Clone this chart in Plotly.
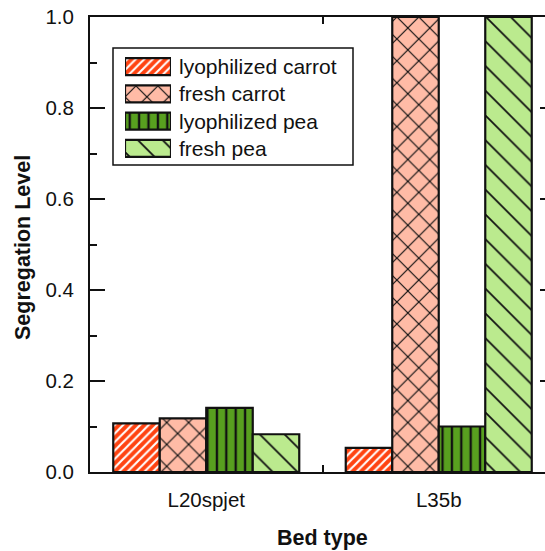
import plotly.graph_objects as go

# Data
bed_types = ["L20spjet", "L35b"]
series_names = ["lyophilized carrot", "fresh carrot", "lyophilized pea", "fresh pea"]
lyo_carrot = [0.107, 0.053]
fresh_carrot = [0.118, 1.0]
lyo_pea = [0.141, 0.100]
fresh_pea = [0.083, 1.0]
y_ticks = [0.0, 0.2, 0.4, 0.6, 0.8, 1.0]

series_values = [lyo_carrot, fresh_carrot, lyo_pea, fresh_pea]

# Styles per series: fill colour, hatch shape, hatch colour, hatch size, solidity
styles = [
    dict(bg="#ff4311", shape="/", fg="#ffffff", size=6, solidity=0.35),
    dict(bg="#ffbba6", shape="x", fg="#111111", size=15.5, solidity=0.15),
    dict(bg="#58a01f", shape="|", fg="#111111", size=9.4, solidity=0.25),
    dict(bg="#bbea8e", shape="\\", fg="#111111", size=17.5, solidity=0.1),
]

FONT = "Liberation Sans, Arial, sans-serif"
TICK_SIZE, LEGEND_SIZE, TITLE_SIZE = 20.5, 21, 21.5
W, H = 545, 551
L, R, T, B = 90, 0, 17, 79
PW, PH = W - L - R, H - T - B


def px_x(v):
    return (v - L) / PW


def px_y(v):
    return (H - B - v) / PH


fig = go.Figure()

for name, vals, st in zip(series_names, series_values, styles):
    fig.add_trace(go.Bar(
        x=bed_types, y=vals, name=name, showlegend=False,
        marker=dict(
            color=st["bg"],
            line=dict(color="#111111", width=2.2),
            pattern=dict(shape=st["shape"], fgcolor=st["fg"], bgcolor=st["bg"],
                         size=st["size"], solidity=st["solidity"], fillmode="replace"),
        ),
    ))

# Hatched legend swatches drawn in a small inset axis
legend_rows = list(range(len(series_names)))
for i, (name, st) in enumerate(zip(series_names, styles)):
    fig.add_trace(go.Bar(
        x=[1], y=[legend_rows[i]], base=0, orientation="h", width=0.62,
        xaxis="x3", yaxis="y3", showlegend=False, hoverinfo="skip",
        marker=dict(
            color=st["bg"],
            line=dict(color="#111111", width=2.2),
            pattern=dict(shape=st["shape"], fgcolor=st["fg"], bgcolor=st["bg"],
                         size=st["size"], solidity=st["solidity"], fillmode="replace"),
        ),
    ))

# invisible trace to carry the right-hand tick axis
fig.add_trace(go.Scatter(x=bed_types, y=[None, None], yaxis="y2", showlegend=False,
                         hoverinfo="skip", mode="markers"))

annotations = []
row_top, row_bot = 53, 162
row_step = (row_bot - row_top) / len(series_names)
for i, name in enumerate(series_names):
    annotations.append(dict(
        x=px_x(177), y=px_y(row_top + row_step * (i + 0.5)), xref="paper", yref="paper",
        text=name, showarrow=False, xanchor="left", yanchor="middle",
        font=dict(family=FONT, size=LEGEND_SIZE, color="#111111"),
    ))

annotations.append(dict(
    x=px_x(23), y=px_y(248), xref="paper", yref="paper", text="<b>Segregation Level</b>",
    textangle=-90, showarrow=False, xanchor="center", yanchor="middle",
    font=dict(family=FONT, size=TITLE_SIZE, color="#111111"),
))
annotations.append(dict(
    x=px_x(322), y=px_y(538), xref="paper", yref="paper", text="<b>Bed type</b>",
    showarrow=False, xanchor="center", yanchor="middle",
    font=dict(family=FONT, size=TITLE_SIZE, color="#111111"),
))

fig.update_layout(
    width=W, height=H,
    margin=dict(l=L, r=R, t=T, b=B, pad=0),
    paper_bgcolor="white", plot_bgcolor="white",
    barmode="group", bargap=0.2, bargroupgap=0,
    font=dict(family=FONT, size=TICK_SIZE, color="#111111"),
    xaxis=dict(
        type="category", range=[-0.5, -0.5 + PW / 232.5],
        tickson="boundaries", ticks="inside", ticklen=7, tickwidth=2, tickcolor="#111111",
        showline=True, linewidth=2, linecolor="#111111", mirror="ticks",
        showgrid=False, zeroline=False, ticklabelstandoff=8,
        tickfont=dict(family=FONT, size=TICK_SIZE, color="#111111"),
    ),
    yaxis=dict(
        range=[0, 1.0], tickvals=y_ticks, ticktext=[f"{v:.1f}" for v in y_ticks],
        ticks="inside", ticklen=15, tickwidth=2, tickcolor="#111111",
        minor=dict(ticks="inside", ticklen=7, tickwidth=2, tickcolor="#111111", dtick=0.1, tick0=0),
        showline=True, linewidth=2, linecolor="#111111",
        showgrid=False, zeroline=False, ticklabelstandoff=10,
        tickfont=dict(family=FONT, size=TICK_SIZE, color="#111111"),
    ),
    yaxis2=dict(
        overlaying="y", side="right", anchor="x", range=[0, 1.0], tickvals=y_ticks,
        ticks="inside", ticklen=5, tickwidth=2, tickcolor="#111111",
        showticklabels=False, showline=False, showgrid=False, zeroline=False,
    ),
    xaxis3=dict(domain=[px_x(125), px_x(171)], range=[0, 1], anchor="y3", visible=False),
    yaxis3=dict(domain=[px_y(row_bot), px_y(row_top)], range=[len(series_names) - 0.5, -0.5],
                anchor="x3", visible=False),
    shapes=[dict(type="rect", xref="paper", yref="paper",
                 x0=px_x(113), x1=px_x(353), y0=px_y(165), y1=px_y(48),
                 line=dict(color="#111111", width=1.5), fillcolor="rgba(0,0,0,0)", layer="below")],
    annotations=annotations,
)

fig.write_html("out.html")
